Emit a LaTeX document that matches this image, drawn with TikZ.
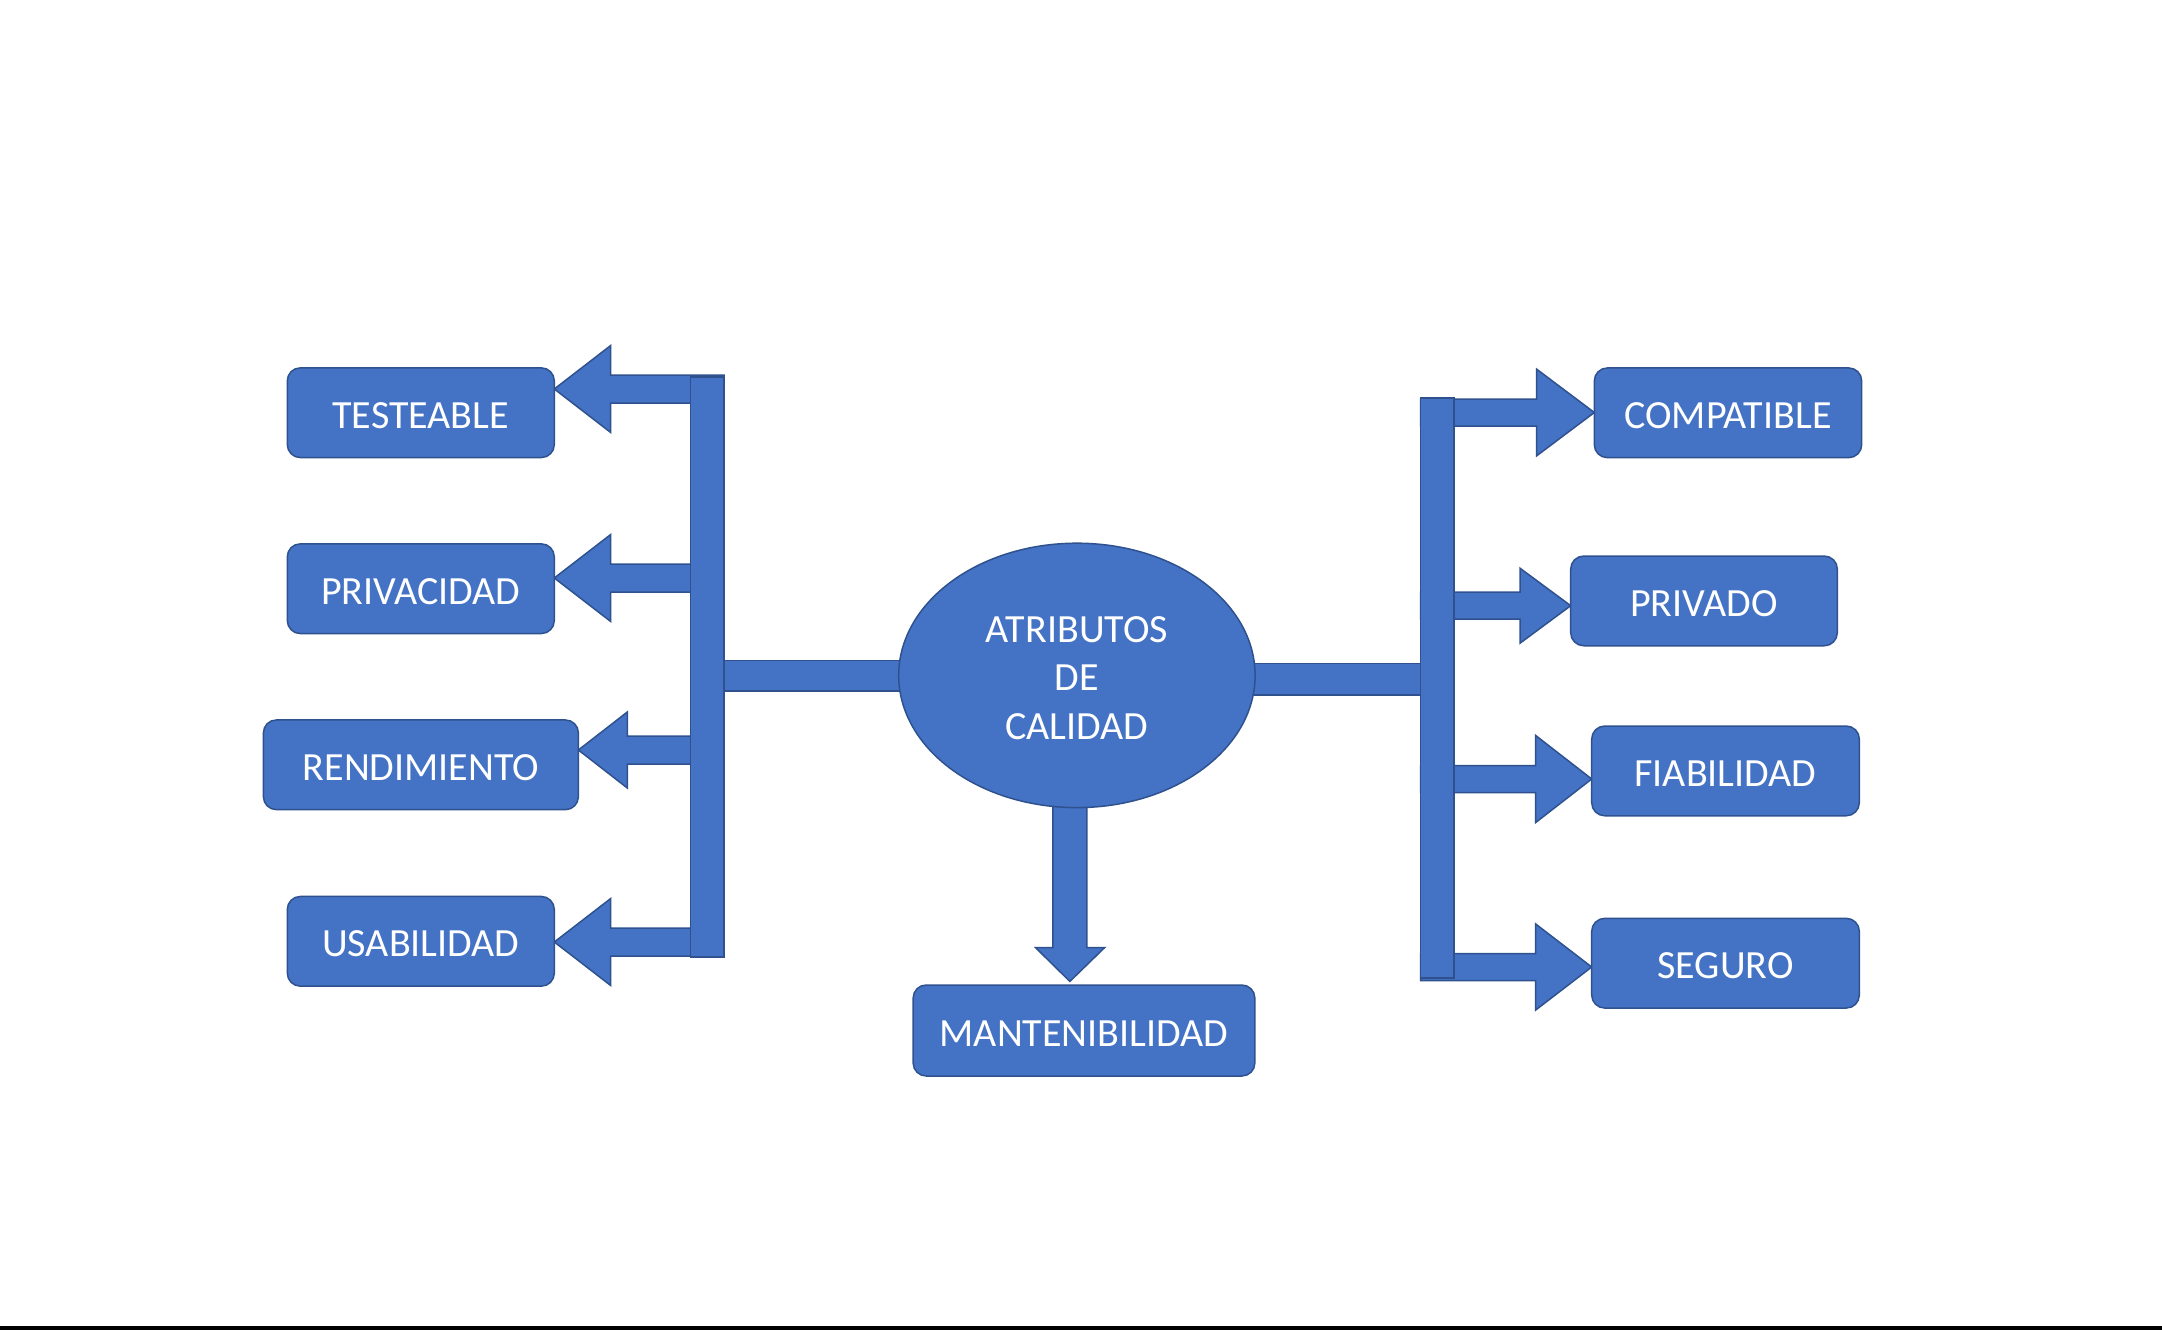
\documentclass[tikz,border=0pt]{standalone}
\usepackage{fontspec}
\setmainfont{Carlito}
\usetikzlibrary{shapes.geometric}
\definecolor{ofblue}{HTML}{4472C4}
\definecolor{ofedge}{HTML}{2F528F}
\newcommand\blkarrow[6]{% tip x, centre y, head base x, head half, shaft half, tail x
  \filldraw[blk] (#1,#2) -- (#3,#2-#4) -- (#3,#2-#5) -- (#6,#2-#5) -- (#6,#2+#5) -- (#3,#2+#5) -- (#3,#2+#4) -- cycle;}
\begin{document}
\begin{tikzpicture}[x=1pt,y=-1pt,
  blk/.style={fill=ofblue,draw=ofedge,line width=1.5pt,line join=miter},
  attrbox/.style={rectangle,rounded corners=13pt,fill=ofblue,draw=ofedge,line width=1.5pt,
    text=white,inner sep=0pt,minimum height=89.7pt,text height=31pt,text depth=0pt,
    font=\fontsize{40}{48.6}\selectfont},
  attrell/.style={ellipse,fill=ofblue,draw=ofedge,line width=1.5pt,inner sep=0pt,
    minimum width=356.4pt,minimum height=264.4pt},
  elltext/.style={text=white,align=center,inner sep=0pt,yshift=-2.6pt,font=\fontsize{40}{48.6}\selectfont}]
\useasboundingbox (0,0) rectangle (2162,1330);
\fill[white] (0,0) rectangle (2162,1330);
\fill[black] (0,1326) rectangle (2162,1330);

% horizontal links from the ellipse
\filldraw[blk] (724,660.4) rectangle (905,691);
\filldraw[blk] (1249,663.6) rectangle (1420.7,695);
% down arrow
\filldraw[blk] (1052.9,800) -- (1052.9,947.5) -- (1035.4,947.5) -- (1069.85,981.4) -- (1104.7,947.5) -- (1086.8,947.5) -- (1086.8,800) -- cycle;

% left arrows
\blkarrow{554.3}{389}{610.7}{43.5}{14}{724}
\blkarrow{554.3}{578}{610.7}{43.5}{14}{724}
\blkarrow{578.4}{750}{627.3}{38}{14}{724}
\blkarrow{554.3}{942}{610.7}{43.5}{14}{724}
% right arrows
\blkarrow{1594.3}{412.5}{1536.7}{43.3}{13.5}{1420.7}
\blkarrow{1570.7}{605.7}{1520}{37.5}{13.5}{1420.7}
\blkarrow{1591.7}{779}{1535.7}{43.5}{13.5}{1420.7}
\blkarrow{1591.7}{967}{1535.7}{43}{13.5}{1420.7}

% vertical bars
\filldraw[blk] (690.7,377) rectangle (724,957);
\filldraw[blk] (1420.7,398) rectangle (1454,978);

% nodes
\node[attrell,label={[elltext]center:ATRIBUTOS\\DE\\CALIDAD}] (attr) at (1076.9,675.4) {};
\node[attrbox,minimum width=267pt] (test) at (420.8,412.7) {TESTEABLE};
\node[attrbox,minimum width=267pt] (priv) at (420.8,588.7) {PRIVACIDAD};
\node[attrbox,minimum width=315pt] (rend) at (420.9,764.8) {RENDIMIENTO};
\node[attrbox,minimum width=267pt] (usab) at (420.8,941.3) {USABILIDAD};
\node[attrbox,minimum width=267.4pt] (comp) at (1728,412.8) {COMPATIBLE};
\node[attrbox,minimum width=266.6pt] (prvd) at (1704,600.9) {PRIVADO};
\node[attrbox,minimum width=267.6pt] (fiab) at (1725.5,770.9) {FIABILIDAD};
\node[attrbox,minimum width=267.6pt] (segu) at (1725.5,963.2) {SEGURO};
\node[attrbox,minimum width=341.7pt,minimum height=91pt] (mant) at (1084,1030.5) {MANTENIBILIDAD};
\end{tikzpicture}
\end{document}
